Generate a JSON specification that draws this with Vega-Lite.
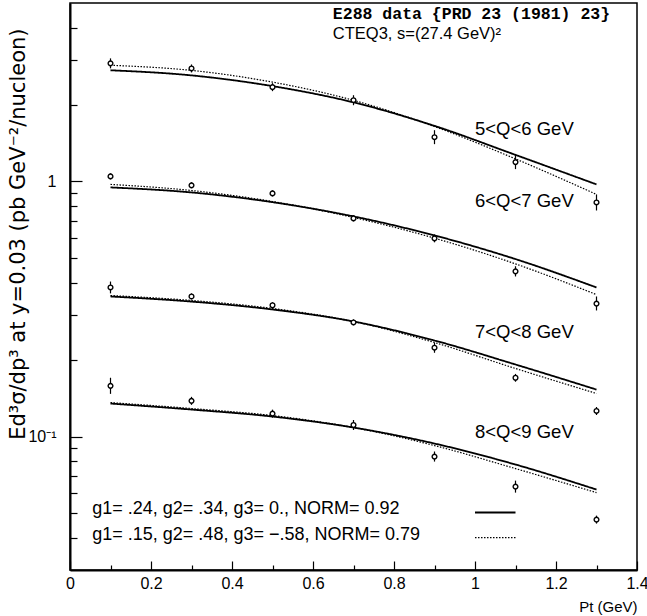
{
  "$schema": "https://vega.github.io/schema/vega-lite/v6.json",
  "width": 567,
  "height": 567,
  "autosize": {"type": "none"},
  "padding": {"left": 70, "top": 3, "right": 10, "bottom": 46},
  "background": "white",
  "config": {"view": {"stroke": "black", "strokeWidth": 1.5}, "font": "Liberation Sans"},
  "datasets": {
    "points": [
      {"q": "5-6", "x": 0.1, "y": 2.90, "lo": 2.772, "hi": 3.034},
      {"q": "5-6", "x": 0.3, "y": 2.77, "lo": 2.672, "hi": 2.872},
      {"q": "5-6", "x": 0.5, "y": 2.34, "lo": 2.257, "hi": 2.426},
      {"q": "5-6", "x": 0.7, "y": 2.08, "lo": 1.988, "hi": 2.176},
      {"q": "5-6", "x": 0.9, "y": 1.49, "lo": 1.399, "hi": 1.587},
      {"q": "5-6", "x": 1.1, "y": 1.19, "lo": 1.117, "hi": 1.268},
      {"q": "5-6", "x": 1.3, "y": 0.827, "lo": 0.769, "hi": 0.889},
      {"q": "6-7", "x": 0.1, "y": 1.046, "lo": 1.018, "hi": 1.075},
      {"q": "6-7", "x": 0.3, "y": 0.965, "lo": 0.939, "hi": 0.992},
      {"q": "6-7", "x": 0.5, "y": 0.897, "lo": 0.873, "hi": 0.922},
      {"q": "6-7", "x": 0.7, "y": 0.716, "lo": 0.697, "hi": 0.736},
      {"q": "6-7", "x": 0.9, "y": 0.598, "lo": 0.577, "hi": 0.620},
      {"q": "6-7", "x": 1.1, "y": 0.444, "lo": 0.424, "hi": 0.465},
      {"q": "6-7", "x": 1.3, "y": 0.332, "lo": 0.312, "hi": 0.354},
      {"q": "7-8", "x": 0.1, "y": 0.384, "lo": 0.364, "hi": 0.405},
      {"q": "7-8", "x": 0.3, "y": 0.354, "lo": 0.345, "hi": 0.364},
      {"q": "7-8", "x": 0.5, "y": 0.327, "lo": 0.318, "hi": 0.336},
      {"q": "7-8", "x": 0.7, "y": 0.280, "lo": 0.273, "hi": 0.288},
      {"q": "7-8", "x": 0.9, "y": 0.223, "lo": 0.213, "hi": 0.233},
      {"q": "7-8", "x": 1.1, "y": 0.170, "lo": 0.164, "hi": 0.176},
      {"q": "7-8", "x": 1.3, "y": 0.126, "lo": 0.1215, "hi": 0.1306},
      {"q": "8-9", "x": 0.1, "y": 0.158, "lo": 0.147, "hi": 0.170},
      {"q": "8-9", "x": 0.3, "y": 0.138, "lo": 0.1331, "hi": 0.1431},
      {"q": "8-9", "x": 0.5, "y": 0.123, "lo": 0.1186, "hi": 0.1275},
      {"q": "8-9", "x": 0.7, "y": 0.111, "lo": 0.1061, "hi": 0.1161},
      {"q": "8-9", "x": 0.9, "y": 0.0835, "lo": 0.0798, "hi": 0.0874},
      {"q": "8-9", "x": 1.1, "y": 0.0637, "lo": 0.0603, "hi": 0.0672},
      {"q": "8-9", "x": 1.3, "y": 0.0473, "lo": 0.0456, "hi": 0.0490}
    ],
    "curves": [
      {"q": "5-6", "fit": "solid", "x": 0.1, "y": 2.725},
      {"q": "5-6", "fit": "solid", "x": 0.3, "y": 2.602},
      {"q": "5-6", "fit": "solid", "x": 0.5, "y": 2.362},
      {"q": "5-6", "fit": "solid", "x": 0.7, "y": 2.040},
      {"q": "5-6", "fit": "solid", "x": 0.9, "y": 1.650},
      {"q": "5-6", "fit": "solid", "x": 1.1, "y": 1.270},
      {"q": "5-6", "fit": "solid", "x": 1.3, "y": 0.973},
      {"q": "5-6", "fit": "dotted", "x": 0.1, "y": 2.851},
      {"q": "5-6", "fit": "dotted", "x": 0.3, "y": 2.722},
      {"q": "5-6", "fit": "dotted", "x": 0.5, "y": 2.449},
      {"q": "5-6", "fit": "dotted", "x": 0.7, "y": 2.078},
      {"q": "5-6", "fit": "dotted", "x": 0.9, "y": 1.640},
      {"q": "5-6", "fit": "dotted", "x": 1.1, "y": 1.225},
      {"q": "5-6", "fit": "dotted", "x": 1.3, "y": 0.889},
      {"q": "6-7", "fit": "solid", "x": 0.1, "y": 0.947},
      {"q": "6-7", "fit": "solid", "x": 0.3, "y": 0.905},
      {"q": "6-7", "fit": "solid", "x": 0.5, "y": 0.829},
      {"q": "6-7", "fit": "solid", "x": 0.7, "y": 0.729},
      {"q": "6-7", "fit": "solid", "x": 0.9, "y": 0.614},
      {"q": "6-7", "fit": "solid", "x": 1.1, "y": 0.496},
      {"q": "6-7", "fit": "solid", "x": 1.3, "y": 0.384},
      {"q": "6-7", "fit": "dotted", "x": 0.1, "y": 0.973},
      {"q": "6-7", "fit": "dotted", "x": 0.3, "y": 0.921},
      {"q": "6-7", "fit": "dotted", "x": 0.5, "y": 0.834},
      {"q": "6-7", "fit": "dotted", "x": 0.7, "y": 0.722},
      {"q": "6-7", "fit": "dotted", "x": 0.9, "y": 0.599},
      {"q": "6-7", "fit": "dotted", "x": 1.1, "y": 0.475},
      {"q": "6-7", "fit": "dotted", "x": 1.3, "y": 0.360},
      {"q": "7-8", "fit": "solid", "x": 0.1, "y": 0.354},
      {"q": "7-8", "fit": "solid", "x": 0.3, "y": 0.338},
      {"q": "7-8", "fit": "solid", "x": 0.5, "y": 0.3148},
      {"q": "7-8", "fit": "solid", "x": 0.7, "y": 0.2825},
      {"q": "7-8", "fit": "solid", "x": 0.9, "y": 0.2379},
      {"q": "7-8", "fit": "solid", "x": 1.1, "y": 0.1916},
      {"q": "7-8", "fit": "solid", "x": 1.3, "y": 0.1528},
      {"q": "7-8", "fit": "dotted", "x": 0.1, "y": 0.357},
      {"q": "7-8", "fit": "dotted", "x": 0.3, "y": 0.3415},
      {"q": "7-8", "fit": "dotted", "x": 0.5, "y": 0.3177},
      {"q": "7-8", "fit": "dotted", "x": 0.7, "y": 0.2825},
      {"q": "7-8", "fit": "dotted", "x": 0.9, "y": 0.2336},
      {"q": "7-8", "fit": "dotted", "x": 1.1, "y": 0.1848},
      {"q": "7-8", "fit": "dotted", "x": 1.3, "y": 0.1475},
      {"q": "8-9", "fit": "solid", "x": 0.1, "y": 0.1347},
      {"q": "8-9", "fit": "solid", "x": 0.3, "y": 0.1276},
      {"q": "8-9", "fit": "solid", "x": 0.5, "y": 0.1198},
      {"q": "8-9", "fit": "solid", "x": 0.7, "y": 0.1085},
      {"q": "8-9", "fit": "solid", "x": 0.9, "y": 0.0939},
      {"q": "8-9", "fit": "solid", "x": 1.1, "y": 0.0777},
      {"q": "8-9", "fit": "solid", "x": 1.3, "y": 0.0620},
      {"q": "8-9", "fit": "dotted", "x": 0.1, "y": 0.1359},
      {"q": "8-9", "fit": "dotted", "x": 0.3, "y": 0.1288},
      {"q": "8-9", "fit": "dotted", "x": 0.5, "y": 0.1209},
      {"q": "8-9", "fit": "dotted", "x": 0.7, "y": 0.1085},
      {"q": "8-9", "fit": "dotted", "x": 0.9, "y": 0.0922},
      {"q": "8-9", "fit": "dotted", "x": 1.1, "y": 0.0749},
      {"q": "8-9", "fit": "dotted", "x": 1.3, "y": 0.0603}
    ],
    "qlabels": [
      {"x": 1.0, "y": 1.60, "text": "5<Q<6 GeV"},
      {"x": 1.0, "y": 0.835, "text": "6<Q<7 GeV"},
      {"x": 1.0, "y": 0.258, "text": "7<Q<8 GeV"},
      {"x": 1.0, "y": 0.1046, "text": "8<Q<9 GeV"}
    ],
    "legendtext": [
      {"x": 0.055, "y": 0.0522, "text": "g1= .24, g2= .34, g3= 0., NORM= 0.92"},
      {"x": 0.055, "y": 0.0413, "text": "g1= .15, g2= .48, g3= −.58, NORM= 0.79"}
    ],
    "legendlines": [
      {"fit": "solid", "x": 1.0, "y": 0.0504},
      {"fit": "solid", "x": 1.1, "y": 0.0504},
      {"fit": "dotted", "x": 1.0, "y": 0.0402},
      {"fit": "dotted", "x": 1.1, "y": 0.0402}
    ],
    "head": [{"x": 0.649, "y": 4.52, "text": "E288 data {PRD 23 (1981) 23}"}],
    "sub": [{"x": 0.649, "y": 3.77, "text": "CTEQ3, s=(27.4 GeV)²"}]
  },
  "layer": [
    {
      "data": {"name": "curves"},
      "mark": {"type": "line", "interpolate": "monotone", "color": "black"},
      "encoding": {
        "x": {
          "field": "x", "type": "quantitative",
          "scale": {"domain": [0, 1.4], "nice": false, "zero": false},
          "axis": {
            "values": [0, 0.05, 0.1, 0.15, 0.2, 0.25, 0.3, 0.35, 0.4, 0.45, 0.5, 0.55, 0.6, 0.65, 0.7, 0.75, 0.8, 0.85, 0.9, 0.95, 1, 1.05, 1.1, 1.15, 1.2, 1.25, 1.3, 1.35, 1.4],
            "labelExpr": "abs(datum.value*5 - round(datum.value*5)) < 0.001 ? format(datum.value, '~g') : ''",
            "tickSize": {"condition": {"test": "abs(datum.value*5 - round(datum.value*5)) < 0.001", "value": -9}, "value": -5},
            "labelPadding": 14,
            "labelOverlap": false,
            "labelFlush": false,
            "grid": false,
            "domainColor": "black", "domainWidth": 2,
            "tickColor": "black", "tickWidth": 1.2,
            "labelFont": "Liberation Sans", "labelFontSize": 16, "labelColor": "black",
            "title": "Pt (GeV)",
            "titleFont": "Liberation Sans", "titleFontSize": 15, "titleFontWeight": "normal", "titleColor": "black",
            "titleAlign": "right", "titleAnchor": "end", "titleX": 567, "titleY": 36, "titleBaseline": "middle"
          }
        },
        "y": {
          "field": "y", "type": "quantitative",
          "scale": {"type": "log", "domain": [0.03, 5], "nice": false},
          "axis": {
            "values": [0.04, 0.05, 0.06, 0.07, 0.08, 0.09, 0.1, 0.2, 0.3, 0.4, 0.5, 0.6, 0.7, 0.8, 0.9, 1, 2, 3, 4],
            "labelExpr": "datum.value == 1 ? '1' : (datum.value == 0.1 ? '10⁻¹' : '')",
            "tickSize": {"condition": {"test": "datum.value == 1 || datum.value == 0.1", "value": -12}, "value": -7},
            "labelPadding": 26,
            "labelOverlap": false,
            "labelFlush": false,
            "grid": false,
            "domainColor": "black", "domainWidth": 2,
            "tickColor": "black", "tickWidth": 1.2,
            "labelFont": "Liberation Sans", "labelFontSize": 16, "labelColor": "black",
            "title": "Ed³σ/dp³ at y=0.03 (pb GeV⁻²/nucleon)",
            "titleFont": "DejaVu Sans", "titleFontSize": 21, "titleFontWeight": "normal", "titleColor": "black",
            "titleAngle": -90, "titleAlign": "right", "titleX": -52, "titleY": 25, "titleBaseline": "middle"
          }
        },
        "detail": {"field": "q"},
        "strokeDash": {"field": "fit", "type": "nominal", "scale": {"domain": ["solid", "dotted"], "range": [[1, 0], [1.5, 1.5]]}, "legend": null},
        "strokeWidth": {"field": "fit", "type": "nominal", "scale": {"domain": ["solid", "dotted"], "range": [1.8, 1.2]}, "legend": null}
      }
    },
    {
      "data": {"name": "points"},
      "mark": {"type": "rule", "color": "black", "strokeWidth": 1.2},
      "encoding": {
        "x": {"field": "x", "type": "quantitative"},
        "y": {"field": "lo", "type": "quantitative"},
        "y2": {"field": "hi"}
      }
    },
    {
      "data": {"name": "points"},
      "mark": {"type": "point", "shape": "circle", "filled": false, "fill": "white", "fillOpacity": 1, "stroke": "black", "strokeWidth": 1.4, "size": 22, "opacity": 1},
      "encoding": {
        "x": {"field": "x", "type": "quantitative"},
        "y": {"field": "y", "type": "quantitative"}
      }
    },
    {
      "data": {"name": "legendlines"},
      "mark": {"type": "line", "color": "black"},
      "encoding": {
        "x": {"field": "x", "type": "quantitative"},
        "y": {"field": "y", "type": "quantitative"},
        "detail": {"field": "fit"},
        "strokeDash": {"field": "fit", "type": "nominal", "scale": {"domain": ["solid", "dotted"], "range": [[1, 0], [1.5, 1.5]]}, "legend": null},
        "strokeWidth": {"field": "fit", "type": "nominal", "scale": {"domain": ["solid", "dotted"], "range": [1.8, 1.2]}, "legend": null}
      }
    },
    {
      "data": {"name": "qlabels"},
      "mark": {"type": "text", "align": "left", "baseline": "middle", "font": "Liberation Sans", "fontSize": 18.5, "color": "black"},
      "encoding": {
        "x": {"field": "x", "type": "quantitative"},
        "y": {"field": "y", "type": "quantitative"},
        "text": {"field": "text"}
      }
    },
    {
      "data": {"name": "legendtext"},
      "mark": {"type": "text", "align": "left", "baseline": "middle", "font": "Liberation Sans", "fontSize": 18, "color": "black"},
      "encoding": {
        "x": {"field": "x", "type": "quantitative"},
        "y": {"field": "y", "type": "quantitative"},
        "text": {"field": "text"}
      }
    },
    {
      "data": {"name": "head"},
      "mark": {"type": "text", "align": "left", "baseline": "middle", "font": "Liberation Mono", "fontWeight": "bold", "fontSize": 16.5, "color": "black"},
      "encoding": {
        "x": {"field": "x", "type": "quantitative"},
        "y": {"field": "y", "type": "quantitative"},
        "text": {"field": "text"}
      }
    },
    {
      "data": {"name": "sub"},
      "mark": {"type": "text", "align": "left", "baseline": "middle", "font": "Liberation Sans", "fontSize": 16.5, "color": "black"},
      "encoding": {
        "x": {"field": "x", "type": "quantitative"},
        "y": {"field": "y", "type": "quantitative"},
        "text": {"field": "text"}
      }
    }
  ]
}
